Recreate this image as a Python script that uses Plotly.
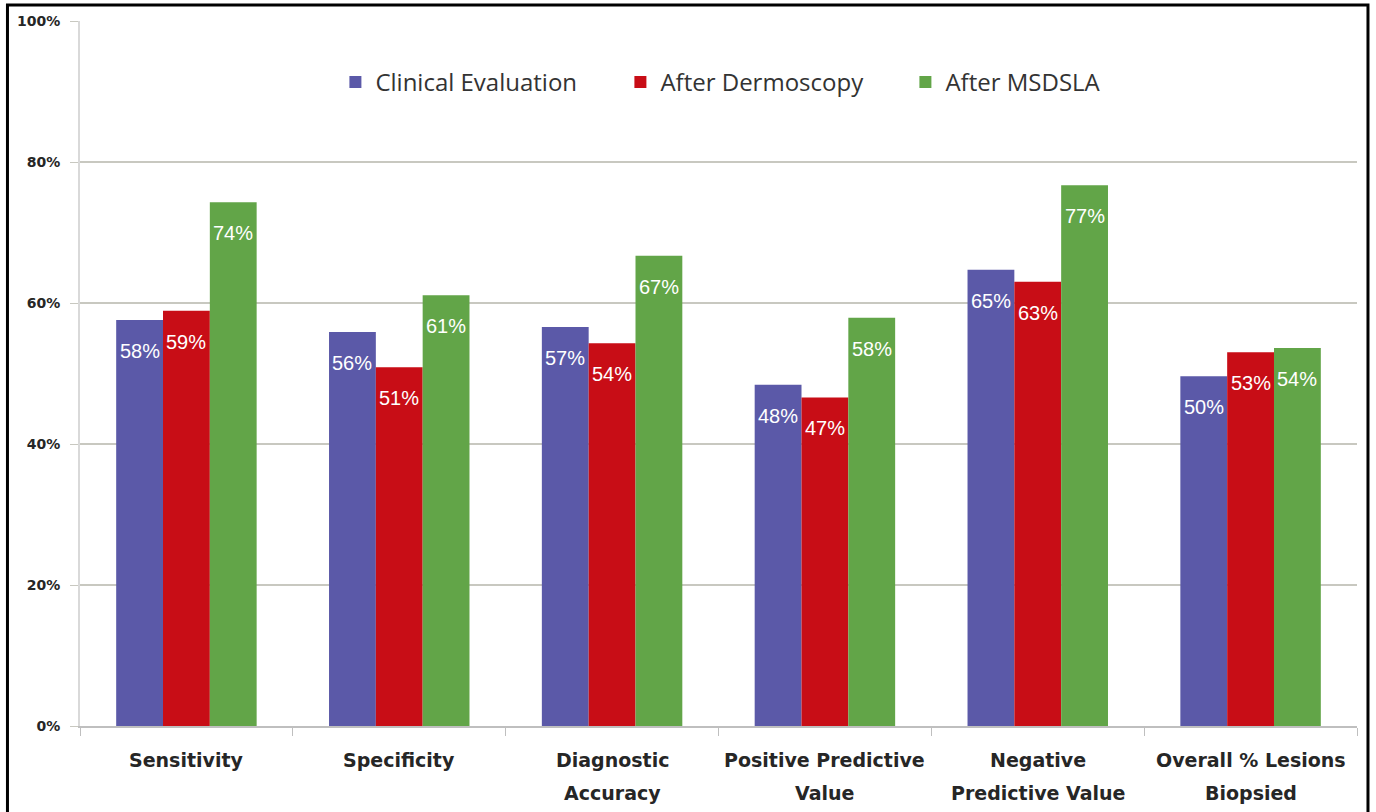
import plotly.graph_objects as go

categories = ["Sensitivity", "Specificity", "Diagnostic<br>Accuracy",
              "Positive Predictive<br>Value", "Negative<br>Predictive Value",
              "Overall % Lesions<br>Biopsied"]
series_names = ["Clinical Evaluation", "After Dermoscopy", "After MSDSLA"]
clinical = [57.6, 55.9, 56.6, 48.4, 64.7, 49.6]
dermoscopy = [58.9, 50.9, 54.3, 46.6, 63.0, 53.0]
msdsla = [74.3, 61.1, 66.7, 57.9, 76.7, 53.6]
y_ticks = [0, 20, 40, 60, 80, 100]

colors = ["#5B59A8", "#C80D16", "#62A548"]
series = [clinical, dermoscopy, msdsla]

BARGAP = 0.34
bar_w = (1 - BARGAP) / 3

fig = go.Figure()
for name, vals, col in zip(series_names, series, colors):
    fig.add_trace(go.Bar(
        name=name, x=categories, y=[v / 100 for v in vals],
        marker=dict(color=col, line=dict(width=0)),
    ))

# value labels inside the top of each bar
for k, vals in enumerate(series):
    for i, v in enumerate(vals):
        fig.add_annotation(
            x=i + (k - 1) * bar_w, y=v / 100, xref="x", yref="y",
            text=f"{round(v)}%", showarrow=False, yanchor="top", yshift=-18,
            font=dict(family="Liberation Sans", size=20, color="white"),
        )

# category labels below the axis, with generous line spacing
for i, cat in enumerate(categories):
    for j, line in enumerate(cat.split("<br>")):
        fig.add_annotation(
            x=i, y=0, xref="x", yref="paper", text=line, showarrow=False,
            yanchor="middle", yshift=-34 - 33 * j,
            font=dict(family="DejaVu Sans", size=19, color="#262626", weight="bold"),
        )

# outer frame
fig.add_shape(type="rect", xref="paper", yref="paper",
              x0=-0.0568, x1=1.0086, y0=-0.14, y1=1.0227,
              line=dict(color="black", width=3), fillcolor="rgba(0,0,0,0)")

fig.update_layout(
    width=1376, height=812,
    margin=dict(l=80, r=19, t=21, b=86),
    paper_bgcolor="white", plot_bgcolor="white",
    barmode="group", bargap=BARGAP, bargroupgap=0,
    showlegend=True,
    legend=dict(orientation="h", x=0.2, y=0.913, xanchor="left", yanchor="middle",
                font=dict(family="Open Sans", size=24, color="#333333"),
                bgcolor="rgba(0,0,0,0)", itemwidth=30,
                entrywidth=240, entrywidthmode="pixels"),
    xaxis=dict(
        showline=True, linecolor="#BFBFBF", linewidth=2,
        ticks="outside", tickson="boundaries", ticklen=8, tickcolor="#BFBFBF",
        showticklabels=False, showgrid=False,
    ),
    yaxis=dict(
        range=[0, 1], tickvals=[t / 100 for t in y_ticks], tickformat=".0%",
        showline=True, linecolor="#D9D9D9", linewidth=2,
        showgrid=True, gridcolor="#C8C8C0", gridwidth=2,
        ticks="outside", ticklen=8, tickcolor="#C8C8C0",
        ticklabelstandoff=7,
        tickfont=dict(family="DejaVu Sans", size=14, color="#262626", weight="bold"),
        zeroline=False,
    ),
)

fig.write_html("out.html")
